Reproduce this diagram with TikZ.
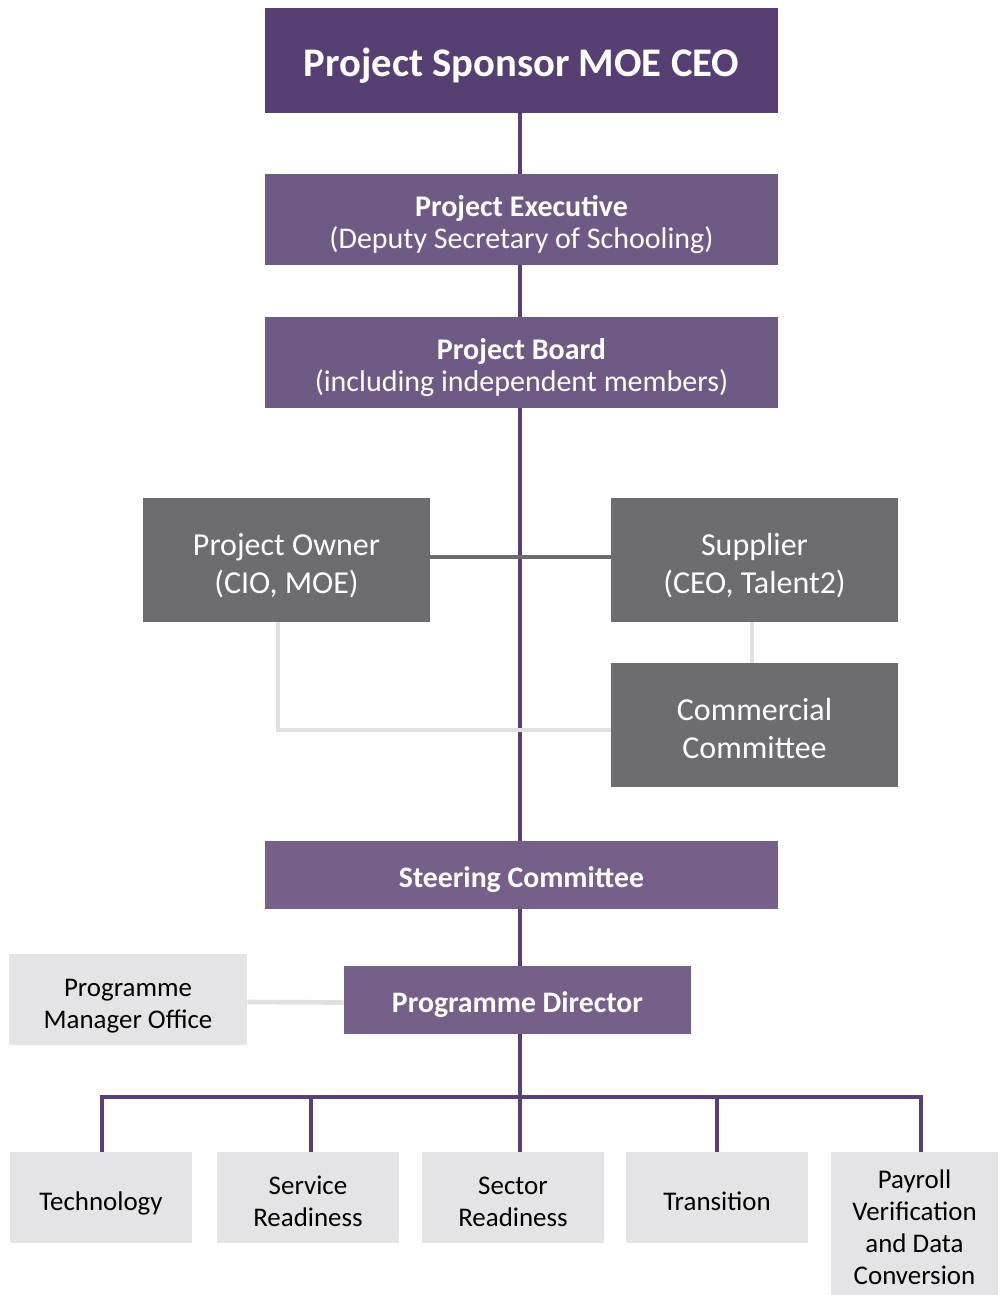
\documentclass[tikz,border=0pt]{standalone}
\usepackage{fontspec}
\setmainfont{Carlito}
\usetikzlibrary{calc}
\definecolor{sponsorc}{HTML}{583F73}
\definecolor{execc}{HTML}{6F5A85}
\definecolor{steerc}{HTML}{765F88}
\definecolor{grayc}{HTML}{6D6D71}
\definecolor{lightc}{HTML}{E4E3E5}
\definecolor{plinec}{HTML}{5A3F75}
\definecolor{llinec}{HTML}{E0E0E0}
\newcommand{\bxt}[1]{\raisebox{-4.9pt}[\height][\depth]{\begin{tabular}{@{}c@{}}#1\end{tabular}}}
\tikzset{
  sz/.style 2 args={minimum width=#1*0.75pt, minimum height=#2*0.75pt},
  box/.style={rectangle, inner sep=0pt, text=white},
  sponsorbox/.style={box, fill=sponsorc, font=\fontsize{30.5}{36}\selectfont\bfseries},
  execbox/.style={box, fill=execc, font=\fontsize{22.5}{24}\selectfont},
  steerbox/.style={box, fill=steerc, font=\fontsize{22.3}{24}\selectfont\bfseries},
  graybox/.style={box, fill=grayc, font=\fontsize{24}{28.5}\selectfont},
  lightbox/.style={box, fill=lightc, text=black, font=\fontsize{20.2}{24}\selectfont},
  pline/.style={draw=plinec, line width=3pt},
  gline/.style={draw=grayc, line width=3.5pt},
  lline/.style={draw=llinec, line width=3.5pt},
}
\begin{document}
\begin{tikzpicture}[x=0.75pt, y=-0.75pt]
\useasboundingbox (0,0) rectangle (1000,1295);
% nodes
\node[sponsorbox, sz={513}{105}] (sponsor) at (521.5,60.5) {\bxt{Project Sponsor MOE CEO}};
\node[execbox, sz={513}{91}] (exec) at (521.5,219.5) {\bxt{\textbf{Project Executive}\\(Deputy Secretary of Schooling)}};
\node[execbox, sz={513}{91}] (board) at (521.5,362.5) {\bxt{\textbf{Project Board}\\(including independent members)}};
\node[graybox, sz={287}{124}] (owner) at (286.5,560) {\bxt{Project Owner\\(CIO, MOE)}};
\node[graybox, sz={287}{124}] (supplier) at (754.5,560) {\bxt{Supplier\\(CEO, Talent2)}};
\node[graybox, sz={287}{124}] (commercial) at (754.5,725) {\bxt{Commercial\\Committee}};
\node[steerbox, sz={513}{68}] (steering) at (521.5,875) {\bxt{Steering Committee}};
\node[steerbox, sz={347}{68}] (director) at (517.5,1000) {\bxt{Programme Director}};
\node[lightbox, sz={238}{91}] (pmo) at (128,999.5) {\bxt{Programme\\Manager Office}};
\node[lightbox, sz={182}{91}] (tech) at (101,1197.5) {\bxt{Technology}};
\node[lightbox, sz={182}{91}] (service) at (308,1197.5) {\bxt{Service\\Readiness}};
\node[lightbox, sz={182}{91}] (sector) at (513,1197.5) {\bxt{Sector\\Readiness}};
\node[lightbox, sz={182}{91}] (transition) at (717,1197.5) {\bxt{Transition}};
\node[lightbox, sz={167}{143}] (payroll) at (914.5,1223.5) {\bxt{Payroll\\Verification\\and Data\\Conversion}};
% bus coordinates
\coordinate (b1) at (102,1097);
\coordinate (b2) at (311,1097);
\coordinate (b3) at (520,1097);
\coordinate (b4) at (717,1097);
\coordinate (b5) at (921,1097);
% connectors
\draw[pline] ($(sponsor.south)+(-1.5,0)$) -- ($(exec.north)+(-1.5,0)$);
\draw[pline] ($(exec.south)+(-1.5,0)$) -- ($(board.north)+(-1.5,0)$);
\draw[pline] ($(board.south)+(-1.5,0)$) -- ($(steering.north)+(-1.5,0)$);
\draw[pline] ($(steering.south)+(-1.5,0)$) -- ($(director.north)+(2.5,0)$);
\draw[pline] ($(director.south)+(2.5,0)$) -- (b3);
\draw[pline] (b1 |- tech.north) -- (b1) -- (b5) -- (b5 |- payroll.north);
\draw[pline] (b2) -- (b2 |- service.north);
\draw[pline] (b3) -- (b3 |- sector.north);
\draw[pline] (b4) -- (b4 |- transition.north);
\draw[lline] ($(owner.south)+(-8.5,0)$) |- ($(commercial.west)+(0,5)$);
\draw[lline] ($(supplier.south)+(-2.5,0)$) -- ($(commercial.north)+(-2.5,0)$);
\draw[lline] ($(pmo.east)+(0,2.5)$) -- ($(director.west)+(0,2.5)$);
\draw[gline] ($(owner.east)+(0,-3)$) -- ($(supplier.west)+(0,-3)$);
\end{tikzpicture}
\end{document}
